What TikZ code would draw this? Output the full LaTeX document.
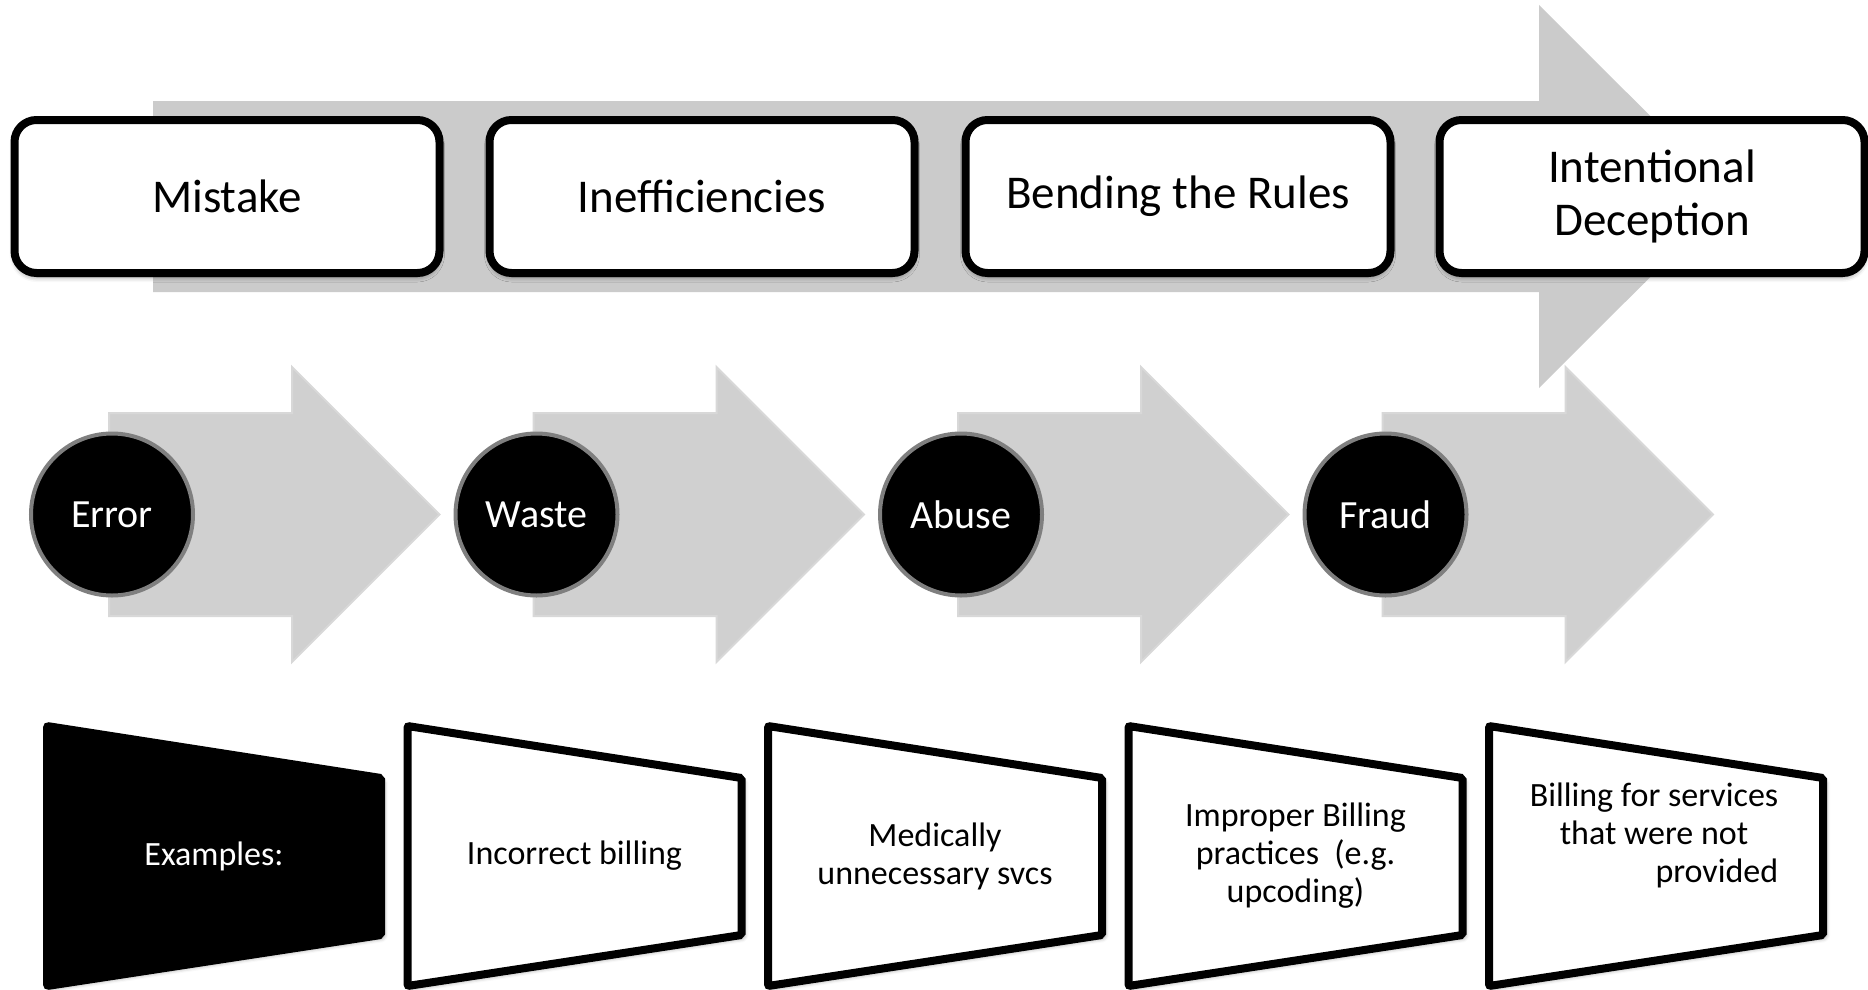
\documentclass[tikz,border=0pt]{standalone}
\usepackage{fontspec}
\setmainfont{Carlito}
\usetikzlibrary{shadows.blur}
\definecolor{bigarrow}{HTML}{CBCBCB}
\definecolor{smallarrow}{HTML}{D0D0D0}
\definecolor{smalledge}{HTML}{D8D8D8}
\definecolor{ringgray}{HTML}{7F7F7F}
\begin{document}
\begin{tikzpicture}[x=1pt,y=-1pt,
  stagebox/.style={draw=black, line width=8pt, fill=white, rounded corners=22pt,
    minimum width=425pt, minimum height=153pt, inner sep=0pt, align=center,
    font=\fontsize{47}{53}\selectfont,
    blur shadow={shadow xshift=0pt, shadow yshift=-4pt, shadow blur radius=5pt, shadow opacity=45}},
  smallarr/.style={fill=smallarrow, draw=smalledge, line width=2pt},
  stagecircle/.style={circle, draw=ringgray, line width=4pt, fill=black, text=white,
    minimum size=162pt, inner sep=0pt, font=\fontsize{40}{44}\selectfont},
  trapbox/.style={draw=black, line width=8pt, fill=white, rounded corners=2pt,
    blur shadow={shadow xshift=3pt, shadow yshift=-3pt, shadow blur radius=4pt, shadow opacity=40}},
  traptext/.style={align=center, inner sep=0pt, font=\fontsize{34}{38}\selectfont}
]
\useasboundingbox (0,0) rectangle (1868,990);

% big background arrow
\fill[bigarrow] (153,101) -- (1539,101) -- (1539,5) -- (1731,196.5)
  -- (1539,388) -- (1539,292) -- (153,292) -- cycle;

% top boxes
\node[stagebox] (mistake) at (227,196.5) {Mistake};
\node[stagebox] (ineff) at (702,196.5) {Inefficiencies};
\node[stagebox] (bend) at (1178,196.5) {Bending the Rules};
\node[stagebox] (intent) at (1652,196.5) {Intentional\\Deception};

% small arrows
\foreach \dx in {0,424.5,849,1273.5}{
  \filldraw[smallarr] ({109+\dx},413) -- ({292+\dx},413) -- ({292+\dx},367)
    -- ({439.5+\dx},514.5) -- ({292+\dx},662) -- ({292+\dx},616) -- ({109+\dx},616) -- cycle;
}

% circles
\node[stagecircle] (error) at (112,514.5) {Error};
\node[stagecircle] (waste) at (536.5,514.5) {Waste};
\node[stagecircle] (abuse) at (961,514.5) {Abuse};
\node[stagecircle] (fraud) at (1385.5,514.5) {Fraud};

% trapezoids
\path[trapbox, fill=black] (47,726) -- (381,778) -- (381,935) -- (47,986) -- cycle;
\node[traptext, text=white] (examples) at (214,856) {Examples:};

\path[trapbox] (407.5,726) -- (741.5,778) -- (741.5,935) -- (407.5,986) -- cycle;
\node[traptext] (incorrect) at (574.5,856) {Incorrect billing};

\path[trapbox] (768,726) -- (1102,778) -- (1102,935) -- (768,986) -- cycle;
\node[traptext] (medically) at (935,856) {Medically\\unnecessary svcs};

\path[trapbox] (1128.5,726) -- (1462.5,778) -- (1462.5,935) -- (1128.5,986) -- cycle;
\node[traptext] (improper) at (1295.5,856) {Improper Billing\\practices~ (e.g.\\upcoding)};

\path[trapbox] (1489,726) -- (1823,778) -- (1823,935) -- (1489,986) -- cycle;
\node[traptext] (notprovided) at (1654,837) {\begin{tabular}{@{}c@{}}Billing for services\\that were not\\\multicolumn{1}{@{}r@{}}{provided}\end{tabular}};
\end{tikzpicture}
\end{document}
